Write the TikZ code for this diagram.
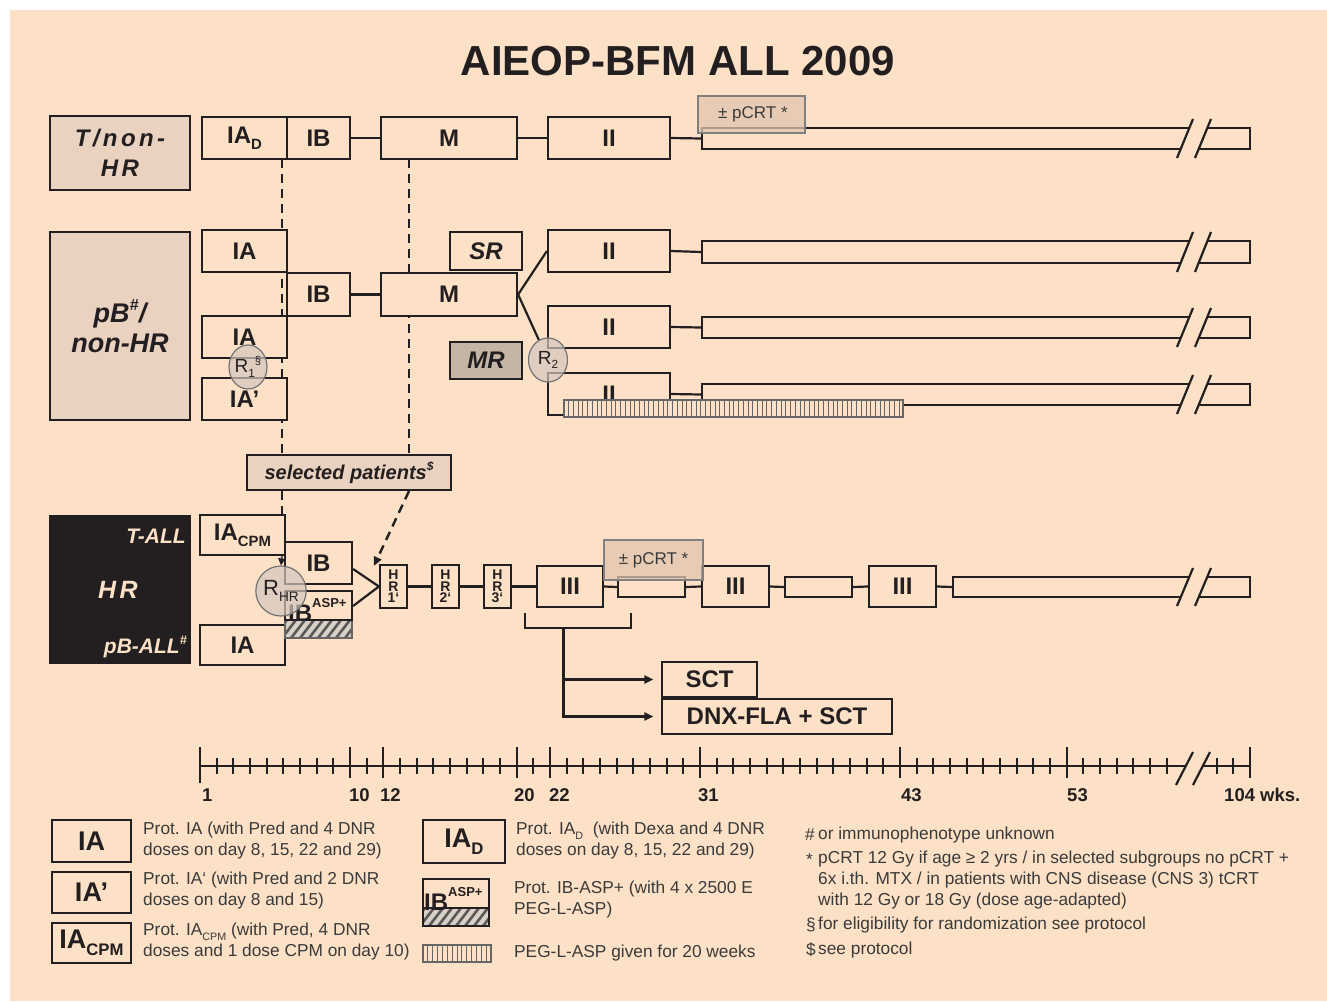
\documentclass[tikz,border=0pt]{standalone}
\usepackage{fontspec}
\setmainfont{Liberation Sans}
\usetikzlibrary{arrows.meta,shapes.geometric}
\definecolor{bg}{HTML}{FCE1C6}
\definecolor{lab}{HTML}{E9D2BF}
\definecolor{ink}{HTML}{231F20}
\definecolor{mrc}{HTML}{C4B5A7}
\definecolor{circ}{HTML}{D3C7BD}
\definecolor{pcrt}{HTML}{E0C4AF}
\definecolor{txt}{HTML}{3A3A3A}
\definecolor{hatchbg}{HTML}{D9D0C7}
\newcommand\lsb[1]{\raisebox{-0.25em}{\scalebox{0.62}{#1}}}
\newcommand\lsp[1]{\raisebox{0.42em}{\scalebox{0.6}{#1}}}
\newcommand\bx[7][]{%
 \pgfmathsetmacro\bxcx{(#3+#5)/2}%
 \pgfmathsetmacro\bxcy{(#4+#6)/2}%
 \pgfmathsetmacro\bxw{#5-#3}%
 \pgfmathsetmacro\bxh{#6-#4}%
 \node[box,minimum width=\bxw pt,minimum height=\bxh pt,#1] (#2) at (\bxcx,\bxcy) {#7};}
% break marks: x of first slash bottom, ytop, ybot
\newcommand\brk[3]{%
 \fill[bg] (#1,#3+9) -- (#1+16,#2-9) -- (#1+34,#2-9) -- (#1+18,#3+9) -- cycle;
 \draw[conn] (#1,#3+9) -- (#1+16,#2-9) (#1+18,#3+9) -- (#1+34,#2-9);}
\begin{document}
\begin{tikzpicture}[x=1pt,y=-1pt,
 box/.style={draw=ink,line width=2.2pt,fill=bg,inner sep=0pt,text=ink,font=\bfseries\fontsize{24}{26}\selectfont},
 conn/.style={draw=ink,line width=2.2pt},
 dsh/.style={draw=ink,line width=2.4pt,dash pattern=on 9pt off 6pt},
 rc/.style={ellipse,draw=black!55,line width=1.2pt,fill=circ,fill opacity=0.7,text opacity=1,text=ink,inner sep=0pt,font=\fontsize{19}{20}\selectfont},
 lbl/.style={box,fill=lab,align=center,font=\bfseries\itshape\fontsize{27}{30}\selectfont},
 pc/.style={draw=black!50,line width=1.2pt,fill=pcrt,fill opacity=0.75,text opacity=1,text=txt,inner sep=0pt,font=\fontsize{17}{18}\selectfont},
 leg/.style={anchor=west,inner sep=0pt,text=txt,align=left,font=\fontsize{17.3}{21}\selectfont},
 axl/.style={anchor=west,inner sep=0pt,text=ink,font=\bfseries\fontsize{18.5}{20}\selectfont},
 hrs/.style={box,align=center,font=\bfseries\fontsize{14}{11.5}\selectfont},
 lgb/.style={box,font=\bfseries\fontsize{27}{28}\selectfont},
 tip/.style={-{Triangle[length=9pt,width=8pt]}}]
\useasboundingbox (0,0) rectangle (1327,1001);
\fill[white] (0,0) rectangle (1327,1001);
\fill[bg] (10,10) rectangle (1327,1001);

\node[text=ink,font=\bfseries\fontsize{42}{44}\selectfont] (title) at (678,61) {AIEOP-BFM ALL 2009};

% ---------- left group labels
\bx[lbl,font=\bfseries\itshape\fontsize{24}{30}\selectfont\addfontfeature{LetterSpace=14}]{tnhr}{50}{116}{190}{190}{T/non-\\HR}
\bx[lbl]{pbnhr}{50}{232}{190}{420}{pB\lsp{\#}/\\non-HR}
\bx[fill=ink]{hrbox}{50}{516}{190}{663}{}
\node[anchor=east,inner sep=0pt,text=bg,font=\bfseries\itshape\fontsize{21}{22}\selectfont] (tall) at (186,536) {T-ALL};
\node[inner sep=0pt,text=bg,font=\bfseries\itshape\fontsize{25}{26}\selectfont\addfontfeature{LetterSpace=14}] (hrt) at (118,590) {HR};
\node[anchor=east,inner sep=0pt,text=bg,font=\bfseries\itshape\fontsize{21}{22}\selectfont] (pball) at (187,647) {pB-ALL\lsp{\#}};

% ---------- dashed guides (drawn first, hidden by boxes)
\coordinate (d1a) at (282,159);
\coordinate (d2a) at (409,159);
\bx{sel}{247}{455}{451}{490}{}
\draw[dsh] (d1a) -- (d1a |- sel.north);
\draw[dsh] (d2a) -- (d2a |- sel.north);

% ---------- row 1 : T / non-HR
\bx{iad}{202}{117}{287}{159}{IA\lsb{D}}
\bx{ib1}{287}{117}{350}{159}{IB}
\bx{m1}{381}{117}{517}{159}{M}
\bx{ii1}{548}{117}{670}{159}{II}
\bx{bar1}{702}{128}{1250}{149}{}
\draw[conn] (ib1.east) -- (m1.west);
\draw[conn] (m1.east) -- (ii1.west);
\draw[conn] (ii1.east) -- (bar1.west);
\brk{1177}{128}{149}
\bx[pc]{pc1}{698}{96}{805}{133}{\,± pCRT *}

% ---------- row 2 : pB / non-HR
\bx{ia2}{202}{230}{287}{272}{IA}
\bx{ib2}{287}{273}{350}{316}{IB}
\bx{ia3}{202}{316}{287}{358}{IA}
\bx{iap}{202}{378}{287}{420}{IA’}
\bx{m2}{381}{273}{517}{316}{M}
\bx[font=\bfseries\itshape\fontsize{24}{26}\selectfont]{sr}{450}{232}{522}{270}{SR}
\bx[fill=mrc,font=\bfseries\itshape\fontsize{24}{26}\selectfont]{mr}{450}{342}{522}{379}{MR}
\bx{ii2a}{548}{230}{670}{272}{II}
\bx{ii2b}{548}{306}{670}{348}{II}
\bx{ii2c}{548}{373}{670}{415}{II}
\bx{bar2a}{702}{241}{1250}{263}{}
\bx{bar2b}{702}{317}{1250}{338}{}
\bx{bar2c}{702}{384}{1250}{405}{}
\draw[conn] (ib2.east) -- (m2.west);
\draw[conn] (ii2a.east) -- (bar2a.west);
\draw[conn] (ii2b.east) -- (bar2b.west);
\draw[conn] (ii2c.east) -- (bar2c.west);
\brk{1177}{241}{263}
\brk{1177}{317}{338}
\brk{1177}{384}{405}
\node[rc,minimum width=39pt,minimum height=44pt] (r2) at (548,360) {R\lsb{2}};
\draw[conn] (m2.east) -- (ii2a.west);
\draw[conn] (m2.east) -- (r2);
\node[rc,minimum width=38pt,minimum height=44pt] (r1) at (248,367) {R\lsb{1}\lsp{§}};
% PEG-L-ASP 20 weeks bar
\fill[bg] (564,400) rectangle (903,417);
\foreach \k in {1,...,71} {\draw[black!60,line width=1pt] (564+\k*4.72,400) -- (564+\k*4.72,417);}
\draw[black!60,line width=1.4pt] (564,400) rectangle (903,417);

% selected patients
\node[draw=ink,line width=1.2pt,fill=lab,minimum width=204pt,minimum height=35pt,inner sep=0pt,text=ink,font=\bfseries\itshape\fontsize{20}{22}\selectfont] (selt) at (sel) {selected patients\lsp{\$}};

% ---------- HR row
\bx{iacpm}{200}{515}{285}{555}{IA\lsb{CPM}}
\bx{ib3}{285}{542}{352}{584}{IB}
\bx{ibasp}{285}{591}{352}{638}{}
\bx{ia4}{200}{625}{285}{665}{IA}
\begin{scope}
 \clip (286,620) rectangle (351,637);
 \fill[hatchbg] (285,620) rectangle (352,638);
 \foreach \k in {0,...,10} {\draw[black!65,line width=2.6pt] (270+\k*9,642) -- (290+\k*9,616);}
\end{scope}
\draw[black!60,line width=1.6pt] (285,620) rectangle (352,638);
\draw[conn] (285,591) rectangle (352,620);
\node[anchor=base west,inner sep=0pt,text=ink,font=\bfseries\fontsize{24}{26}\selectfont] (ibasptx) at (288,621) {IB\raisebox{0.55em}{\fontsize{13}{13}\selectfont ASP+}};
\bx[hrs]{hr1}{380}{565}{407}{608}{H\\R\\1‘}
\bx[hrs]{hr2}{432}{565}{459}{608}{H\\R\\2‘}
\bx[hrs]{hr3}{484}{565}{511}{608}{H\\R\\3‘}
\bx{iii1}{537}{566}{603}{607}{III}
\bx{sb1}{618}{577}{685}{597}{}
\bx{iii2}{702}{566}{769}{607}{III}
\bx{sb2}{785}{577}{852}{597}{}
\bx{iii3}{869}{566}{936}{607}{III}
\bx{bar4}{953}{577}{1250}{597}{}
\brk{1177}{577}{597}
\draw[conn] (hr1.east) -- (hr2.west);
\draw[conn] (hr2.east) -- (hr3.west);
\draw[conn] (hr3.east) -- (iii1.west);
\draw[conn] (iii1.east) -- (sb1.west);
\draw[conn] (sb1.east) -- (iii2.west);
\draw[conn] (iii2.east) -- (sb2.west);
\draw[conn] (sb2.east) -- (iii3.west);
\draw[conn] (iii3.east) -- (bar4.west);
\draw[conn] ([yshift=-6pt]ib3.east) -- (hr1.west) -- ([yshift=8.5pt]ibasp.east);
\bx[pc]{pc2}{604}{540}{703}{580}{± pCRT *}
\node[rc,minimum width=44pt,minimum height=50pt,font=\fontsize{22}{22}\selectfont] (rhr) at (281,591) {R\lsb{HR}};
\draw[ink,line width=1.3pt,-{Triangle[length=7pt,width=7pt]}] (d1a |- iacpm.south) -- (rhr.north);
\draw[dsh] (d1a |- sel.south) -- (d1a |- iacpm.north);
\draw[dsh,tip] (d2a |- sel.south) -- ([xshift=-5pt,yshift=-2pt]hr1.north west);

% bracket and SCT
\coordinate (bl) at (525,613);
\coordinate (br) at (631,613);
\coordinate (vt) at (563,628);
\draw[ink,line width=2.6pt] (bl) |- (br |- vt) -- (br);
\bx[font=\bfseries\fontsize{24}{26}\selectfont,line width=1.4pt]{sct}{662}{662}{757}{697}{SCT}
\bx[font=\bfseries\fontsize{24}{26}\selectfont,line width=1.4pt]{dnx}{662}{699}{892}{734}{DNX-FLA + SCT}
\draw[ink,line width=3pt] (vt) -- (vt |- dnx.west);
\draw[ink,line width=2.6pt,-{Triangle[length=9pt,width=8pt]}] (vt |- sct.west) -- ([xshift=-8pt]sct.west);
\draw[ink,line width=2.6pt,-{Triangle[length=9pt,width=8pt]}] ([xshift=-1.3pt]vt |- dnx.west) -- ([xshift=-8pt]dnx.west);

% ---------- time axis (index k -> x = 200+(k-1)*16.667; weeks 102..104 at k=62..64)
\draw[conn] (200,766) -- (1250,766);
\foreach \w in {1,...,59,62,63,64} {\draw[ink,line width=2pt] ({200+(\w-1)*16.6667},758) -- ({200+(\w-1)*16.6667},774);}
\foreach \w in {10,12,20,22,31,43,53,64} {\draw[ink,line width=2pt] ({200+(\w-1)*16.6667},747) -- ({200+(\w-1)*16.6667},778);}
\draw[ink,line width=2pt] (200,747) -- (200,783);
\fill[bg] (1176,785) -- (1193,752) -- (1210,752) -- (1193,785) -- cycle;
\draw[conn] (1176,785) -- (1193,752) (1193,785) -- (1210,752);
\node[axl] (w1) at (202,795) {1};
\node[axl] (w10) at (349,795) {10};
\node[axl] (w12) at (380,795) {12};
\node[axl] (w20) at (514,795) {20};
\node[axl] (w22) at (549,795) {22};
\node[axl] (w31) at (698,795) {31};
\node[axl] (w43) at (901,795) {43};
\node[axl] (w53) at (1067,795) {53};
\node[axl] (w104) at (1224,795) {104 wks.};

% ---------- legend
\bx[lgb]{lia}{52}{820}{131}{862}{IA}
\bx[lgb]{liap}{52}{872}{131}{913}{IA’}
\bx[lgb]{liacpm}{52}{923}{131}{963}{IA\lsb{CPM}}
\bx[lgb]{liad}{423}{820}{505}{863}{IA\lsb{D}}
\bx{libasp}{423}{879}{489}{926}{}
\begin{scope}
 \clip (424,908) rectangle (488,925);
 \fill[hatchbg] (423,908) rectangle (489,926);
 \foreach \k in {0,...,10} {\draw[black!65,line width=2.6pt] (408+\k*9,930) -- (428+\k*9,904);}
\end{scope}
\draw[conn] (423,879) rectangle (489,926);
\draw[ink,line width=1.4pt] (423,908) -- (489,908);
\node[anchor=base west,inner sep=0pt,text=ink,font=\bfseries\fontsize{24}{26}\selectfont] (libtx) at (424,910) {IB\raisebox{0.55em}{\fontsize{13}{13}\selectfont ASP+}};
\fill[bg] (423,945) rectangle (491,962);
\foreach \k in {1,...,13} {\draw[black!60,line width=1pt] (423+\k*4.86,945) -- (423+\k*4.86,962);}
\draw[black!60,line width=1.4pt] (423,945) rectangle (491,962);

\node[leg] (l1) at (143,841) {Prot. IA (with Pred and 4 DNR\\doses on day 8, 15, 22 and 29)};
\node[leg] (l2) at (143,891) {Prot. IA‘ (with Pred and 2 DNR\\doses on day 8 and 15)};
\node[leg] (l3) at (143,942) {Prot. IA\lsb{CPM} (with Pred, 4 DNR\\doses and 1 dose CPM on day 10)};
\node[leg] (l4) at (516,841) {Prot. IA\lsb{D}\ \ (with Dexa and 4 DNR\\doses on day 8, 15, 22 and 29)};
\node[leg] (l5) at (514,900) {Prot. IB-ASP+ (with 4 x 2500 E\\PEG-L-ASP)};
\node[leg] (l6) at (514,953) {PEG-L-ASP given for 20 weeks};

\node[leg] (r1s) at (805,835) {\#};
\node[leg] (r1) at (818,835) {or immunophenotype unknown};
\node[leg] (r2s) at (806,860) {*};
\node[leg,font=\fontsize{17.3}{20.7}\selectfont] (r2) at (818,880) {pCRT 12 Gy if age ≥ 2 yrs / in selected subgroups no pCRT +\\6x i.th. MTX / in patients with CNS disease (CNS 3) tCRT\\with 12 Gy or 18 Gy (dose age-adapted)};
\node[leg] (r3s) at (806,925) {§};
\node[leg] (r3) at (818,925) {for eligibility for randomization see protocol};
\node[leg] (r4s) at (806,950) {\$};
\node[leg] (r4) at (818,950) {see protocol};
\end{tikzpicture}
\end{document}
